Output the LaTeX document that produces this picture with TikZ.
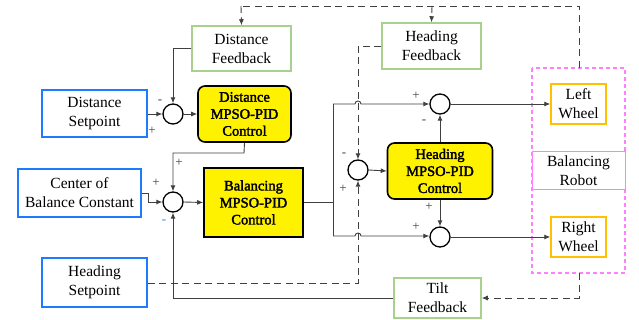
\documentclass[tikz,border=0pt]{standalone}
\usepackage{fontspec}
\setmainfont{Liberation Serif}
\newfontfamily\pidfont{Liberation Serif}[FakeBold=2.2]
\usetikzlibrary{arrows.meta}
\definecolor{bblue}{HTML}{1E7BFF}
\definecolor{fgreen}{HTML}{A9D18E}
\definecolor{worange}{HTML}{FFC000}
\definecolor{rpink}{HTML}{FF80FF}
\definecolor{lgray}{HTML}{404040}
\tikzset{
  setbox/.style={draw=bblue, line width=1.8pt, fill=white, align=center, inner sep=0pt, font=\fontsize{15.5}{19}\selectfont},
  fbbox/.style={draw=fgreen, line width=1.5pt, fill=white, align=center, inner sep=0pt, font=\fontsize{15.5}{19}\selectfont},
  pidbox/.style={draw=black, line width=1.6pt, fill=yellow, align=center, inner sep=0pt, font=\pidfont\fontsize{14.5}{17}\selectfont},
  wheelbox/.style={draw=worange, line width=1.5pt, fill=white, align=center, inner sep=0pt, font=\fontsize{15.5}{19}\selectfont},
  robotbox/.style={draw=rpink, line width=1pt, fill=white, align=center, inner sep=0pt, font=\fontsize{15.5}{19}\selectfont},
  sumnode/.style={draw=black, circle, line width=1.3pt, minimum size=20pt, inner sep=0pt, fill=white},
  conn/.style={draw=lgray, line width=0.9pt, -{Latex[length=6pt,width=5pt]}},
  plain/.style={draw=lgray, line width=0.9pt},
  dconn/.style={draw=lgray, line width=0.9pt, dash pattern=on 7pt off 4.5pt, -{Latex[length=6pt,width=5pt]}},
  dplain/.style={draw=lgray, line width=0.9pt, dash pattern=on 7pt off 4.5pt},
  sgn/.style={font=\fontsize{13}{13}\selectfont, inner sep=0pt, text=lgray},
}
\begin{document}
\begin{tikzpicture}[x=1pt,y=-1pt]
\useasboundingbox (0,0) rectangle (639,320);
% pink robot frame
\draw[rpink, line width=1.5pt, dash pattern=on 4pt off 3pt] (532,68) rectangle (625,273);
\coordinate (ptop) at (579,68);
\coordinate (pbot) at (579,273);
% boxes
\node[setbox, minimum width=105pt, minimum height=47pt] (ds) at (94.5,113.5) {Distance\\Setpoint};
\node[fbbox, minimum width=99pt, minimum height=45pt] (df) at (241.5,48.5) {Distance\\Feedback};
\node[pidbox, rounded corners=7pt, minimum width=93pt, minimum height=56pt] (dpid) at (244.5,114) {Distance\\MPSO-PID\\Control};
\node[setbox, minimum width=123pt, minimum height=48pt] (cob) at (79.5,193) {Center of\\Balance Constant};
\node[pidbox, minimum width=99pt, minimum height=69pt] (bpid) at (253.5,202.5) {Balancing\\MPSO-PID\\Control};
\node[setbox, minimum width=105pt, minimum height=49pt] (hs) at (94.5,282.5) {Heading\\Setpoint};
\node[fbbox, minimum width=99pt, minimum height=46pt] (hf) at (431.5,46) {Heading\\Feedback};
\node[pidbox, rounded corners=7pt, minimum width=105pt, minimum height=56pt] (hpid) at (440,171) {Heading\\MPSO-PID\\Control};
\node[fbbox, minimum width=87pt, minimum height=40pt] (tf) at (437.5,298) {Tilt\\Feedback};
\node[wheelbox, minimum width=55pt, minimum height=40pt] (lw) at (578.5,104) {Left\\Wheel};
\node[wheelbox, minimum width=55pt, minimum height=40pt] (rw) at (578.5,237) {Right\\Wheel};
\node[robotbox, minimum width=93pt, minimum height=38pt] (robot) at (578.5,171) {Balancing\\Robot};
% sums
\node[sumnode] (s1) at (173,114) {};
\node[sumnode] (s2) at (173,202) {};
\node[sumnode] (s3) at (358,170) {};
\node[sumnode] (sl) at (440,104) {};
\node[sumnode] (sr) at (440,237) {};
% coordinates
\coordinate (dtop) at (241,6);
\coordinate (htop) at (432,6);
\coordinate (rtop) at (579,6);
\coordinate (split) at (333,202);
\coordinate (splitu) at (333,104);
\coordinate (splitd) at (333,236);
% distance loop
\draw[conn] (ds.east |- s1.west) -- (s1.west);
\draw[conn] (df.west) -| (s1.north);
\draw[conn] (s1.east) -- (dpid.west);
\draw[conn] (dpid.south) -- (244,153) -| (s2.north);
% balancing loop
\draw[conn] (cob.east) -- (148,193) |- (s2.west);
\draw[conn] (s2.east) -- (bpid.west);
\draw[plain] (bpid.east |- split) -- (split);
\draw[plain] (splitu) -- (splitd);
\draw[conn] (splitu) -- (355,104) .. controls (355,100) and (361,100) .. (361,104) -- (sl.west);
\draw[conn] (splitd) -- (355,236) .. controls (355,232) and (361,232) .. (361,236) -- (sr.west |- splitd);
\draw[conn] (sl.east) -- (lw.west);
\draw[conn] (sr.east) -- (rw.west);
% heading loop
\draw[conn] (s3.east) -- (hpid.west);
\draw[conn] (hpid.north) -- (sl.south);
\draw[conn] (hpid.south) -- (sr.north);
\draw[dconn] (hf.west) -| (s3.north);
\draw[dconn] (hs.east |- 0,283) -- (358,283) -- (s3.south);
% tilt feedback
\draw[conn] (tf.west) -- (173,298) -- (s2.south);
% robot feedback (dashed)
\draw[dplain] (ptop) -- (rtop) -- (dtop);
\draw[dconn] (dtop) -- (df.north);
\draw[dconn] (htop) -- (hf.north);
\draw[dconn] (pbot) |- (tf.east);
% signs
\node[sgn] (m1) at (160,102) {-};
\node[sgn] (p1) at (152,131) {+};
\node[sgn] (p2) at (156,183) {+};
\node[sgn] (p3) at (179,163) {+};
\node[sgn, text=bblue] (m2) at (164,222) {-};
\node[sgn] (m3) at (344,155) {-};
\node[sgn] (p4) at (343,189) {+};
\node[sgn] (p5) at (416,96) {+};
\node[sgn] (m4) at (424,122) {-};
\node[sgn] (p6) at (429,207) {+};
\node[sgn] (p7) at (416,227) {+};
\end{tikzpicture}
\end{document}
